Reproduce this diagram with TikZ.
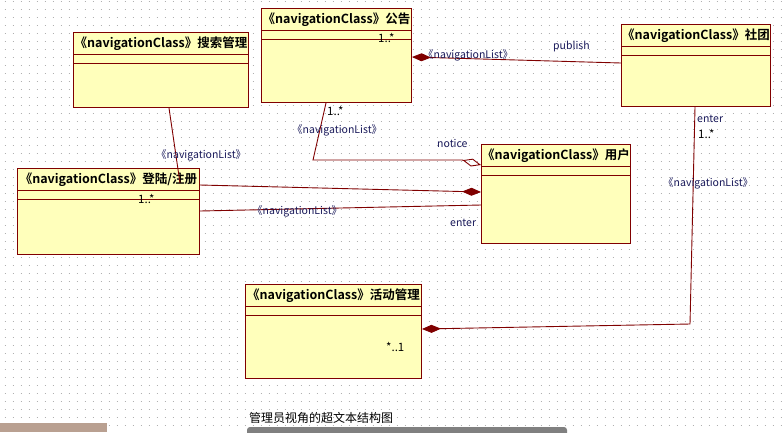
\documentclass[tikz,border=0pt]{standalone}
\usepackage{fontspec}
\setmainfont{Noto Sans CJK SC}[BoldFont={Noto Sans CJK SC Bold}]
\usetikzlibrary{arrows.meta,calc}
\definecolor{umlred}{RGB}{128,0,0}
\definecolor{umlfill}{RGB}{255,255,187}
\definecolor{umlnavy}{RGB}{25,25,90}
\definecolor{griddot}{RGB}{176,176,176}
\tikzset{
  navclass/.style={
    draw = umlred,
    fill = umlfill,
    line width = 1pt,
    anchor = north west,
    inner sep = 0pt
  },
  classhead/.style={
    font = \bfseries\fontsize{12.5}{13}\selectfont,
    inner sep = 0pt
  },
  navlink/.style={
    draw = umlred,
    line width = 0.9pt
  },
  composite/.style={
    navlink,
    -{Diamond[length=19pt,width=8pt]}
  },
  aggregate/.style={
    navlink,
    -{Diamond[open,length=19pt,width=8pt]}
  },
  navlabel/.style={
    font = \fontsize{10.5}{11}\selectfont,
    text = umlnavy,
    anchor = west,
    inner sep = 0pt
  },
  multlabel/.style={
    font = \fontsize{11.5}{12}\selectfont,
    anchor = west,
    inner sep = 0pt
  }
}
\begin{document}
\begin{tikzpicture}[x=1pt,y=-1pt]
  \useasboundingbox (0,0) rectangle (783,432);
  \fill[white] (0,0) rectangle (783,432);
  % dotted background
  \foreach \j in {0,...,53}
    \draw[griddot, line width=1pt, dash pattern=on 1pt off 7pt] (4.5,1+8*\j) -- (783,1+8*\j);
  \fill[fill={rgb,255:red,185;green,160;blue,145}] (0,423) rectangle (107,432);
  \fill[gray, rounded corners=3pt] (247,427) rectangle (567,436);

  % classes
  \node[navclass, minimum width=175pt, minimum height=75pt] (sousuo) at (73,32) {};
  \node[navclass, minimum width=150pt, minimum height=94pt] (gonggao) at (261,8) {};
  \node[navclass, minimum width=149pt, minimum height=82pt] (shetuan) at (621,24) {};
  \node[navclass, minimum width=149pt, minimum height=99pt] (yonghu) at (481,144) {};
  \node[navclass, minimum width=182pt, minimum height=86pt] (denglu) at (17,168) {};
  \node[navclass, minimum width=176pt, minimum height=94pt] (huodong) at (245,284) {};
  \foreach \c/\t in {sousuo/搜索管理, gonggao/公告, shetuan/社团, yonghu/用户, denglu/{登陆/注册}, huodong/活动管理} {
    \node[classhead] at ($(\c.north)+(0,11.5)$) {《navigationClass》\t};
    \draw[umlred, line width=1pt] ($(\c.north west)+(0,22.5)$) -- ($(\c.north east)+(0,22.5)$);
    \draw[umlred, line width=1pt] ($(\c.north west)+(0,31)$) -- ($(\c.north east)+(0,31)$);
  }

  % links
  \draw[navlink] ($(sousuo.south west)+(96,0)$) -- ($(denglu.north west)+(163,15)$);
  \node[navlabel] (sousuolist) at (156,155) {《navigationList》};

  \coordinate (noticebend) at (313,160);
  \draw[aggregate] ($(gonggao.south west)+(65,0)$) -- (noticebend) -- (noticebend -| 462,0) -- ($(yonghu.north west)+(0,21)$);
  \node[multlabel] (noticemult) at (327,111) {1..*};
  \node[navlabel] (noticelist) at (292,130) {《navigationList》};
  \node[navlabel] (notice) at (437,143) {notice};

  \draw[composite] ($(denglu.north east)+(0,17)$) -- ($(yonghu.north west)+(0,48)$);

  \draw[navlink] ($(denglu.north east)+(0,43)$) -- ($(yonghu.north west)+(0,61)$);
  \node[navlabel] (enterlist) at (252,211) {《navigationList》};
  \node[navlabel] (enter) at (450,223) {enter};
  \node[multlabel] (entermult) at (138,199) {1..*};

  \draw[composite] ($(shetuan.north west)+(0,39)$) -- ($(gonggao.north east)+(0,49)$);
  \node[navlabel] (publishlist) at (423,55) {《navigationList》};
  \node[navlabel] (publish) at (553,47) {publish};
  \node[multlabel] (publishmult) at (378,38) {1..*};

  \coordinate (huodongbend) at (690,324);
  \draw[composite] ($(shetuan.south west)+(74,0)$) -- (huodongbend) -- ($(huodong.north east)+(0,45)$);
  \node[navlabel] (shetuanenter) at (697,119) {enter};
  \node[multlabel] (shetuanmult) at (698,134) {1..*};
  \node[navlabel] (shetuanlist) at (663,183) {《navigationList》};
  \node[multlabel] (huodongmult) at (386,347) {*..1};

  \node[anchor=west, inner sep=0pt, font=\fontsize{12}{13}\selectfont] (caption) at (249,418) {管理员视角的超文本结构图};
\end{tikzpicture}
\end{document}
